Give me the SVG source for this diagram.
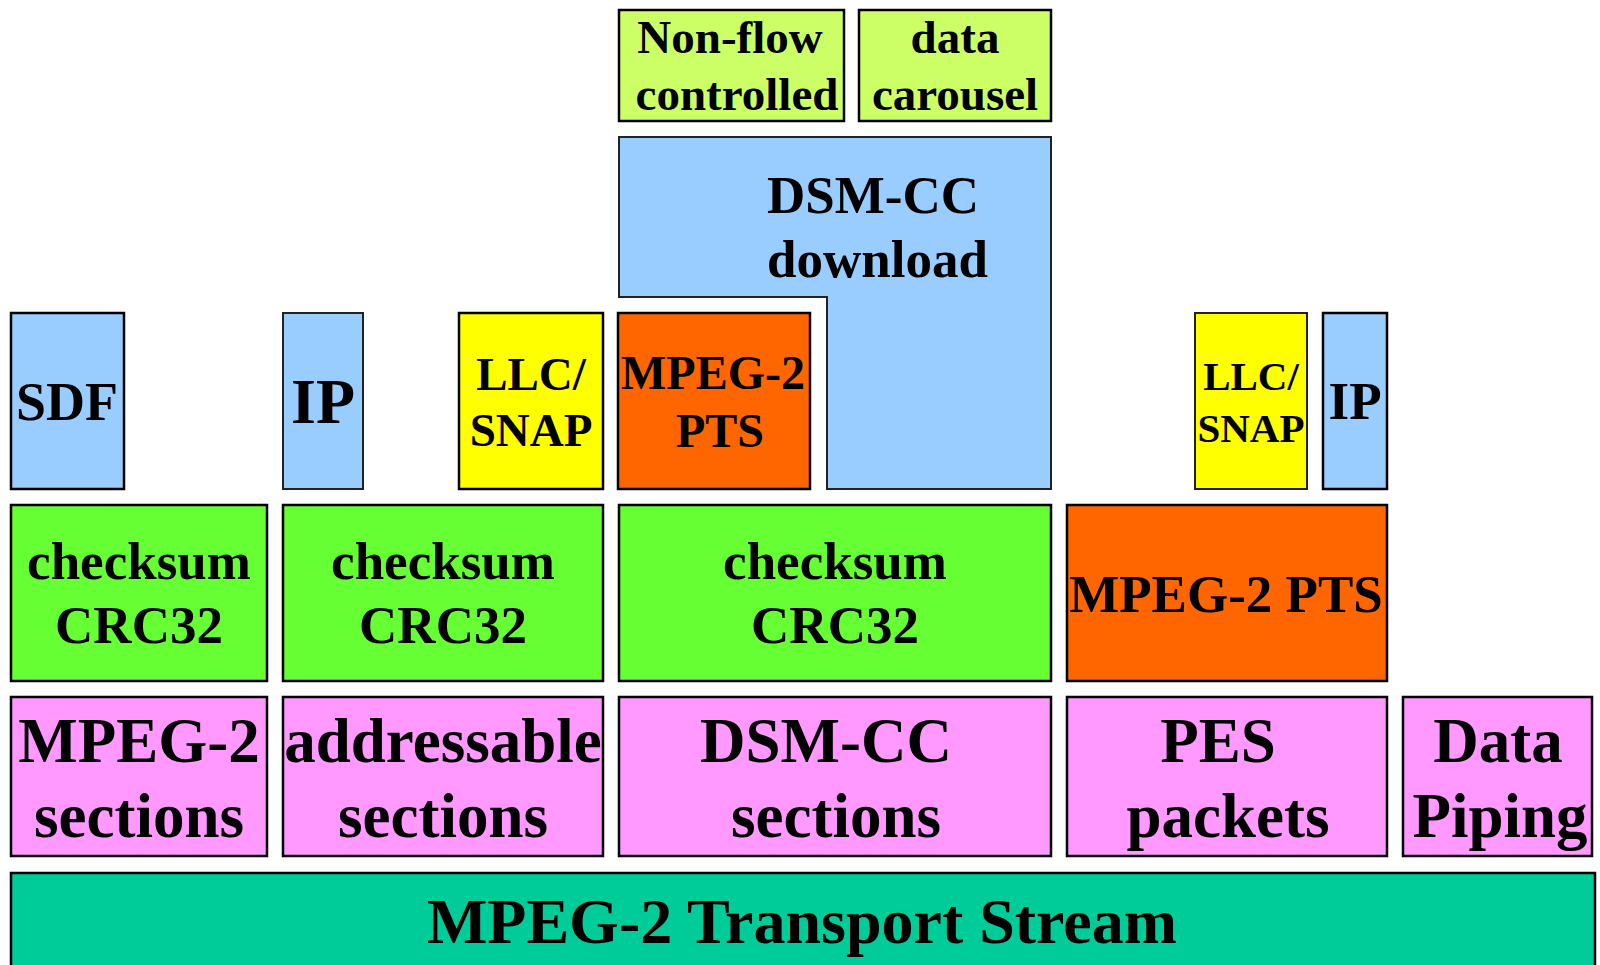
<svg xmlns="http://www.w3.org/2000/svg" width="1600" height="965" viewBox="0 0 1600 965">
<style>
.b{stroke:#000;stroke-width:2.5}
.t{stroke:#222;stroke-width:2}
text{font-family:"Liberation Serif","Times New Roman",serif;font-weight:bold;fill:#000;text-anchor:middle}
.lg{fill:#CCFF66}.bl{fill:#99CCFF}.ye{fill:#FFFF00}.or{fill:#FF6600}.gr{fill:#66FF33}.pk{fill:#FF99FF}.te{fill:#00CC99}
</style>
<rect width="1600" height="965" fill="#fff"/>
<g id="nonflow">
<rect class="b lg" x="619" y="10" width="225" height="111"/>
<text font-size="47"><tspan x="730" y="53">Non-flow</tspan><tspan x="737" y="110">controlled</tspan></text>
</g>
<g id="carousel">
<rect class="b lg" x="859" y="10" width="192" height="111"/>
<text font-size="47"><tspan x="955" y="53">data</tspan><tspan x="955" y="110">carousel</tspan></text>
</g>
<g id="dsmcc-download">
<path class="t bl" d="M619,137 H1051 V489 H827 V297 H619 Z"/>
<text font-size="53" style="text-anchor:start"><tspan x="767" y="213">DSM-CC</tspan><tspan x="767" y="277">download</tspan></text>
</g>
<g id="sdf">
<rect class="b bl" x="11" y="313" width="113" height="176"/>
<text font-size="54" x="67" y="420">SDF</text>
</g>
<g id="ip1">
<rect class="t bl" x="283" y="313" width="80" height="176"/>
<text font-size="64" x="323" y="423">IP</text>
</g>
<g id="llc1">
<rect class="b ye" x="459" y="313" width="144" height="176"/>
<text font-size="47"><tspan x="531" y="390">LLC/</tspan><tspan x="531" y="446">SNAP</tspan></text>
</g>
<g id="pts1">
<rect class="b or" x="618" y="313" width="192" height="176"/>
<text font-size="48"><tspan x="713" y="389">MPEG-2</tspan><tspan x="720" y="447">PTS</tspan></text>
</g>
<g id="llc2">
<rect class="t ye" x="1195" y="313" width="112" height="176"/>
<text font-size="41"><tspan x="1251" y="390">LLC/</tspan><tspan x="1251" y="442">SNAP</tspan></text>
</g>
<g id="ip2">
<rect class="b bl" x="1323" y="313" width="64" height="176"/>
<text font-size="53" x="1355" y="419">IP</text>
</g>
<g id="crc1">
<rect class="b gr" x="11" y="505" width="256" height="176"/>
<text font-size="53"><tspan x="139" y="579">checksum</tspan><tspan x="139" y="643">CRC32</tspan></text>
</g>
<g id="crc2">
<rect class="b gr" x="283" y="505" width="320" height="176"/>
<text font-size="53"><tspan x="443" y="579">checksum</tspan><tspan x="443" y="643">CRC32</tspan></text>
</g>
<g id="crc3">
<rect class="b gr" x="619" y="505" width="432" height="176"/>
<text font-size="53"><tspan x="835" y="579">checksum</tspan><tspan x="835" y="643">CRC32</tspan></text>
</g>
<g id="pts2">
<rect class="b or" x="1067" y="505" width="320" height="176"/>
<text font-size="53" x="1226" y="612">MPEG-2 PTS</text>
</g>
<g id="mpeg2-sections">
<rect class="b pk" x="11" y="697" width="256" height="159"/>
<text font-size="63"><tspan x="139" y="762">MPEG-2</tspan><tspan x="139" y="837">sections</tspan></text>
</g>
<g id="addressable-sections">
<rect class="b pk" x="283" y="697" width="320" height="159"/>
<text font-size="63"><tspan x="443" y="762">addressable</tspan><tspan x="443" y="837">sections</tspan></text>
</g>
<g id="dsmcc-sections">
<rect class="b pk" x="619" y="697" width="432" height="159"/>
<text font-size="63"><tspan x="826" y="762">DSM-CC</tspan><tspan x="836" y="837">sections</tspan></text>
</g>
<g id="pes">
<rect class="b pk" x="1067" y="697" width="320" height="159"/>
<text font-size="63"><tspan x="1218" y="762">PES</tspan><tspan x="1228" y="837">packets</tspan></text>
</g>
<g id="datapiping">
<rect class="b pk" x="1403" y="697" width="189" height="159"/>
<text font-size="63"><tspan x="1498" y="762">Data</tspan><tspan x="1500" y="837">Piping</tspan></text>
</g>
<g id="transport">
<rect class="b te" x="11" y="873" width="1584" height="110"/>
<text font-size="64" x="802" y="943">MPEG-2 Transport Stream</text>
</g>
<g id="connectors"></g>
</svg>
